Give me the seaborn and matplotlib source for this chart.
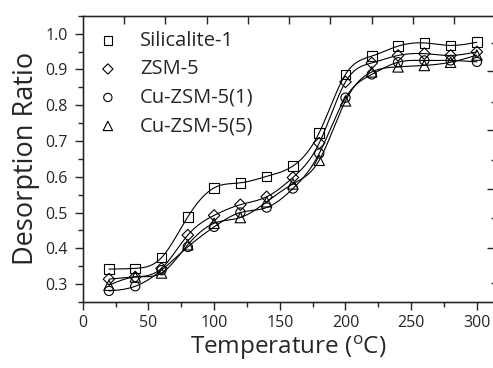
import numpy as np
import pandas as pd
import matplotlib
matplotlib.use("Agg")
import matplotlib.pyplot as plt
import seaborn as sns
from matplotlib.ticker import MultipleLocator, FixedLocator, NullFormatter

# ---------------------------------
# Data
# ---------------------------------

temperature = [20, 40, 60, 80, 100, 120, 140, 160, 180, 200, 220, 240, 260, 280, 300]

silicalite = [0.342, 0.344, 0.374, 0.488, 0.569, 0.583, 0.601, 0.630, 0.723, 0.886, 0.937, 0.965, 0.974, 0.967, 0.976]
zsm5 = [0.314, 0.320, 0.344, 0.437, 0.492, 0.522, 0.544, 0.598, 0.694, 0.865, 0.918, 0.939, 0.944, 0.939, 0.949]
cu_zsm5_1 = [0.281, 0.294, 0.339, 0.404, 0.460, 0.500, 0.514, 0.567, 0.665, 0.821, 0.886, 0.920, 0.925, 0.925, 0.921]
cu_zsm5_5 = [0.297, 0.320, 0.331, 0.410, 0.470, 0.486, 0.530, 0.580, 0.646, 0.812, 0.893, 0.907, 0.911, 0.920, 0.940]

series_names = ["Silicalite-1", "ZSM-5", "Cu-ZSM-5(1)", "Cu-ZSM-5(5)"]
series_values = [silicalite, zsm5, cu_zsm5_1, cu_zsm5_5]
series_markers = ["s", "D", "o", "^"]
series_sizes = [48, 34, 44, 56]


# ---------------------------------
# Natural cubic spline for the smooth curves
# ---------------------------------

def natural_spline(x, y, n=400):
    x = np.asarray(x, float)
    y = np.asarray(y, float)
    k = len(x)
    h = np.diff(x)
    A = np.zeros((k, k))
    b = np.zeros(k)
    A[0, 0] = 1
    A[-1, -1] = 1
    for i in range(1, k - 1):
        A[i, i - 1] = h[i - 1]
        A[i, i] = 2 * (h[i - 1] + h[i])
        A[i, i + 1] = h[i]
        b[i] = 6 * ((y[i + 1] - y[i]) / h[i] - (y[i] - y[i - 1]) / h[i - 1])
    M = np.linalg.solve(A, b)
    xs = np.linspace(x[0], x[-1], n)
    idx = np.clip(np.searchsorted(x, xs) - 1, 0, k - 2)
    x0, x1 = x[idx], x[idx + 1]
    hh = x1 - x0
    t0, t1 = x1 - xs, xs - x0
    ys = (M[idx] * t0 ** 3 + M[idx + 1] * t1 ** 3) / (6 * hh) \
        + (y[idx] / hh - M[idx] * hh / 6) * t0 \
        + (y[idx + 1] / hh - M[idx + 1] * hh / 6) * t1
    return xs, ys


# ---------------------------------
# Figure
# ---------------------------------

sns.set_style("ticks")
plt.rcParams["font.family"] = ["Open Sans", "DejaVu Sans"]
plt.rcParams["mathtext.fontset"] = "custom"
plt.rcParams["mathtext.rm"] = "Open Sans"

fig = plt.figure(figsize=(4.93, 3.68), dpi=100)
ax = fig.add_axes([0.1677, 0.1793, 0.8343, 0.778])

for name, vals, m, s in zip(series_names, series_values, series_markers, series_sizes):
    xs, ys = natural_spline(temperature, vals)
    sns.lineplot(x=xs, y=ys, ax=ax, color="black", linewidth=0.8, legend=False)
    sns.scatterplot(
        x=temperature, y=vals, ax=ax, marker=m, s=s,
        facecolor="none", edgecolor="black", linewidth=0.8, label=name
    )

ax.set_xlim(0, 313)
ax.set_ylim(0.25, 1.05)

ax.xaxis.set_major_locator(MultipleLocator(50))
ax.xaxis.set_minor_locator(MultipleLocator(25))
ax.yaxis.set_major_locator(FixedLocator([0.3, 0.4, 0.5, 0.6, 0.7, 0.8, 0.9, 1.0]))
ax.yaxis.set_minor_locator(MultipleLocator(0.05))
ax.yaxis.set_major_formatter(matplotlib.ticker.FormatStrFormatter("%.1f"))

ax.tick_params(which="major", direction="out", length=6, width=1.0, labelsize=11.5, pad=3,
               top=False, right=False)
ax.tick_params(axis="y", which="major", pad=4.5)
ax.tick_params(which="minor", direction="out", length=3.5, width=1.0, top=False, right=False)

for side in ["left", "bottom", "top", "right"]:
    ax.spines[side].set_linewidth(1.0)
    ax.spines[side].set_color("black")

# top and right frame ticks (inward, own spacing as in the reference)
top = ax.twiny()
top.set_xlim(0, 411.3)
top.xaxis.set_major_locator(FixedLocator([41.3 * k for k in range(1, 10)]))
top.xaxis.set_major_formatter(NullFormatter())
top.tick_params(axis="x", direction="in", length=5.5, width=1.0)

right = ax.twinx()
right.set_ylim(0, 286.3)
right.yaxis.set_major_locator(FixedLocator([53.7, 112.7, 171.7, 230.7]))
right.yaxis.set_minor_locator(FixedLocator([19, 84, 142, 200, 259]))
right.yaxis.set_major_formatter(NullFormatter())
right.tick_params(axis="y", which="major", direction="in", length=5, width=1.0)
right.tick_params(axis="y", which="minor", direction="in", length=2.5, width=1.0)

ax.set_xlabel("Temperature ($^{\\mathregular{o}}$C)", fontsize=17.5, labelpad=2)
ax.set_ylabel("Desorption Ratio", fontsize=19.5, labelpad=4)

ax.legend(
    loc="upper left", frameon=False, fontsize=14.5, handletextpad=1.1,
    labelspacing=0.42, borderaxespad=0.45, borderpad=0.3, markerscale=0.9,
    handlelength=1.0
)

fig.savefig("out.png", dpi=100)
